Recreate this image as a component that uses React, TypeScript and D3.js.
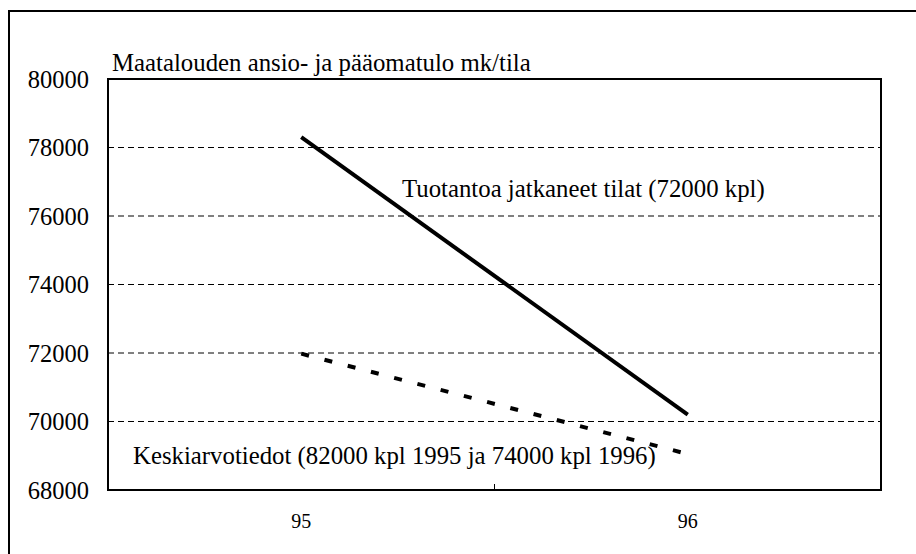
import React from "react";
import * as d3 from "d3";

const categories = ["95", "96"];
const continuedFarms = [78300, 70200];
const averageData = [71980, 69050];
const yTicks = [68000, 70000, 72000, 74000, 76000, 78000, 80000];
const titleText = "Maatalouden ansio- ja pääomatulo mk/tila";
const labelContinued = "Tuotantoa jatkaneet tilat (72000 kpl)";
const labelAverage = "Keskiarvotiedot (82000 kpl 1995 ja 74000 kpl 1996)";

const W = 916;
const H = 554;
const plot = { left: 108, right: 881, top: 79, bottom: 490 };
const FONT = "Liberation Serif";

export default function App() {
  const x = d3.scaleBand<string>().domain(categories).range([plot.left, plot.right]).padding(0);
  const y = d3.scaleLinear().domain([68000, 80000]).range([plot.bottom, plot.top]);
  const cx = (c: string) => (x(c) as number) + x.bandwidth() / 2;
  const line = d3
    .line<number>()
    .x((_, i) => cx(categories[i]))
    .y((d) => y(d));

  return (
    <svg
      width={W}
      height={H}
      viewBox={`0 0 ${W} ${H}`}
      style={{ position: "absolute", left: 0, top: 0, background: "#fff", fontFamily: FONT }}
    >
      <rect x={0} y={0} width={W} height={H} fill="#fff" />
      {/* outer frame */}
      <rect x={9} y={11} width={W + 20} height={H + 20} fill="none" stroke="#000" strokeWidth={2} />

      {/* gridlines */}
      {yTicks
        .filter((t) => t !== 68000 && t !== 80000)
        .map((t) => (
          <line
            key={"g" + t}
            x1={plot.left}
            x2={plot.right}
            y1={y(t)}
            y2={y(t)}
            stroke="#000"
            strokeWidth={1}
            strokeDasharray="6,4"
          />
        ))}

      {/* plot border */}
      <rect
        x={plot.left}
        y={plot.top}
        width={plot.right - plot.left}
        height={plot.bottom - plot.top}
        fill="none"
        stroke="#000"
        strokeWidth={2}
      />

      {/* middle category tick */}
      {categories.slice(1).map((c) => (
        <line
          key={"t" + c}
          x1={x(c) as number}
          x2={x(c) as number}
          y1={plot.bottom}
          y2={plot.bottom - 6}
          stroke="#000"
          strokeWidth={1}
        />
      ))}

      {/* y tick labels */}
      {yTicks.map((t) => (
        <text
          key={"l" + t}
          x={89}
          y={y(t)}
          dy="0.35em"
          textAnchor="end"
          fontFamily={FONT}
          fontSize={24.5}
          fill="#000"
        >
          {t}
        </text>
      ))}

      {/* x labels */}
      {categories.map((c) => (
        <text
          key={"x" + c}
          x={cx(c)}
          y={528}
          textAnchor="middle"
          fontFamily={FONT}
          fontSize={20}
          fill="#000"
        >
          {c}
        </text>
      ))}

      {/* series */}
      <path d={line(continuedFarms) || ""} fill="none" stroke="#000" strokeWidth={4} />
      <path
        d={line(averageData) || ""}
        fill="none"
        stroke="#000"
        strokeWidth={4}
        strokeDasharray="8,16"
      />

      {/* title & labels */}
      <text x={112} y={71} fontFamily={FONT} fontSize={24.8} fill="#000">
        {titleText}
      </text>
      <text x={402} y={197} fontFamily={FONT} fontSize={24.8} fill="#000">
        {labelContinued}
      </text>
      <text x={133} y={464} fontFamily={FONT} fontSize={24.8} fill="#000">
        {labelAverage}
      </text>
    </svg>
  );
}
